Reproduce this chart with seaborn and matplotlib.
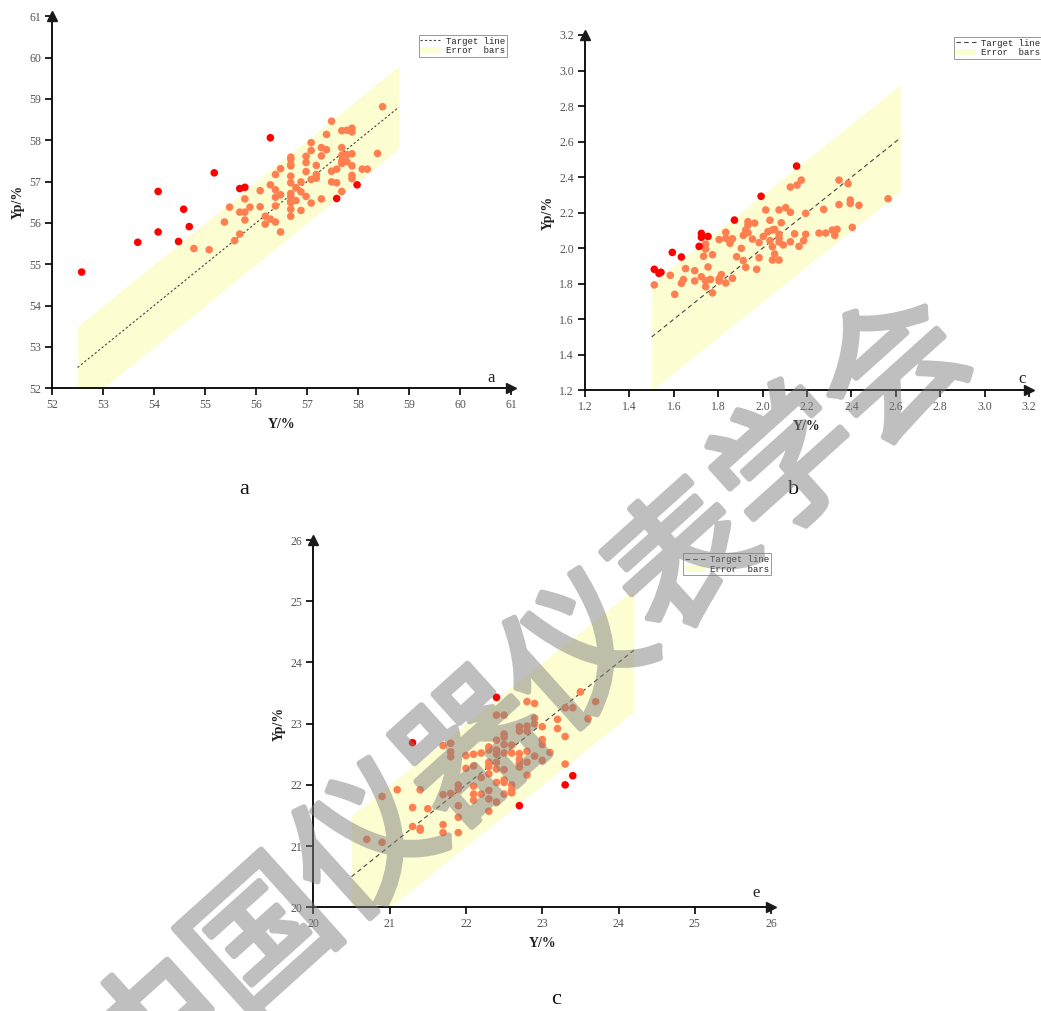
import numpy as np
import pandas as pd
import matplotlib.pyplot as plt
import matplotlib.patheffects as pe
from matplotlib.lines import Line2D
from matplotlib.patches import Patch
import seaborn as sns

# --- dati pannello a ---
a_in_x = [54.78, 55.08, 55.38, 55.48, 55.58, 55.68, 55.68, 55.78, 55.78, 55.78, 55.88, 56.08, 56.08,
          56.18, 56.18, 56.28, 56.28, 56.38, 56.38, 56.38, 56.38, 56.38, 56.48, 56.48, 56.48, 56.68,
          56.68, 56.68, 56.68, 56.68, 56.68, 56.68, 56.68, 56.68, 56.68, 56.68, 56.68, 56.78, 56.78,
          56.88, 56.88, 56.88, 56.98, 56.98, 56.98, 56.98, 57.08, 57.08, 57.08, 57.08, 57.18, 57.18,
          57.18, 57.28, 57.28, 57.28, 57.38, 57.38, 57.48, 57.48, 57.48, 57.58, 57.58, 57.68, 57.68,
          57.68, 57.68, 57.68, 57.68, 57.78, 57.78, 57.78, 57.88, 57.88, 57.88, 57.88, 57.88, 57.88,
          58.08, 58.18, 58.38, 58.48]
a_in_y = [55.38, 55.35, 56.02, 56.38, 55.57, 55.73, 56.26, 56.26, 56.07, 56.58, 56.38, 56.78, 56.39,
          56.16, 55.97, 56.92, 56.09, 57.17, 56.80, 56.62, 56.41, 56.02, 57.31, 56.68, 55.78, 57.59,
          57.54, 57.41, 57.38, 57.13, 56.97, 56.71, 56.63, 56.53, 56.49, 56.33, 56.16, 56.85, 56.54,
          56.99, 56.75, 56.30, 57.61, 57.46, 57.24, 56.64, 57.94, 57.75, 57.05, 56.48, 57.39, 57.17,
          57.08, 57.82, 57.62, 56.58, 58.14, 57.77, 58.46, 57.25, 56.99, 57.30, 56.97, 58.23, 57.82,
          57.63, 57.50, 57.44, 56.76, 58.24, 57.65, 57.48, 58.29, 58.20, 57.67, 57.38, 57.15, 57.07,
          57.30, 57.30, 57.68, 58.81]
a_out_x = [52.58, 53.68, 54.08, 54.08, 54.48, 54.58, 54.69, 55.18, 55.68, 55.78, 56.28, 57.58, 57.98]
a_out_y = [54.81, 55.53, 56.76, 55.78, 55.55, 56.33, 55.91, 57.21, 56.83, 56.86, 58.06, 56.59, 56.92]

# --- dati pannello b ---
b_in_x = [1.512, 1.584, 1.604, 1.634, 1.643, 1.653, 1.694, 1.694, 1.724, 1.734, 1.743, 1.743, 1.743,
          1.754, 1.743, 1.765, 1.774, 1.774, 1.804, 1.804, 1.804, 1.814, 1.834, 1.834, 1.834, 1.853,
          1.864, 1.864, 1.883, 1.904, 1.913, 1.913, 1.924, 1.924, 1.934, 1.934, 1.934, 1.954, 1.964,
          1.973, 1.984, 1.984, 2.003, 2.014, 2.024, 2.033, 2.033, 2.044, 2.044, 2.044, 2.054, 2.054,
          2.074, 2.074, 2.074, 2.074, 2.074, 2.084, 2.093, 2.104, 2.125, 2.125, 2.144, 2.164, 2.125,
          2.155, 2.174, 2.185, 2.194, 2.194, 2.254, 2.275, 2.284, 2.314, 2.325, 2.335, 2.344, 2.344,
          2.385, 2.395, 2.395, 2.404, 2.434, 2.565]
b_in_y = [1.793, 1.847, 1.740, 1.802, 1.823, 1.885, 1.873, 1.815, 1.839, 1.954, 2.023, 1.995, 1.783,
          1.894, 1.817, 1.824, 1.963, 1.748, 2.048, 1.828, 1.815, 1.851, 2.089, 2.055, 1.804, 2.027,
          2.053, 1.830, 1.952, 1.999, 2.072, 1.930, 2.102, 1.892, 2.149, 2.130, 2.087, 2.051, 2.141,
          1.881, 2.031, 1.946, 2.066, 2.215, 2.093, 2.157, 2.042, 2.102, 2.008, 1.933, 2.106, 1.967,
          2.215, 1.933, 2.078, 2.057, 2.035, 2.143, 2.018, 2.228, 2.202, 2.036, 2.081, 2.010, 2.344,
          2.355, 2.383, 2.042, 2.196, 2.078, 2.085, 2.218, 2.085, 2.102, 2.072, 2.106, 2.383, 2.245,
          2.363, 2.271, 2.252, 2.117, 2.241, 2.278]
b_out_x = [1.512, 1.533, 1.542, 1.593, 1.634, 1.714, 1.724, 1.724, 1.754, 1.873, 1.993, 2.153]
b_out_y = [1.881, 1.858, 1.864, 1.976, 1.950, 2.010, 2.083, 2.061, 2.066, 2.158, 2.292, 2.462]

# --- dati pannello c ---
c_in_x = [23.5, 23.7, 23.3, 23.4, 23.6, 22.8, 22.9, 22.4, 22.5, 22.9, 22.9, 23.2, 22.7, 22.7, 22.8,
          22.8, 23.0, 23.2, 23.3, 22.5, 22.5, 23.0, 23.0, 22.4, 21.7, 21.8, 22.3, 22.3, 22.5, 22.6,
          22.4, 22.4, 21.8, 21.8, 22.0, 22.1, 22.2, 22.5, 22.6, 22.7, 22.7, 22.8, 23.1, 22.9, 22.3,
          22.3, 22.4, 22.1, 22.8, 22.7, 22.7, 23.0, 23.3, 22.0, 22.2, 22.3, 22.4, 22.5, 22.8, 21.9,
          21.9, 21.8, 22.1, 22.4, 22.5, 22.5, 22.6, 22.6, 22.6, 22.1, 22.1, 22.2, 22.3, 22.3, 22.4,
          22.5, 21.7, 21.9, 21.4, 21.1, 20.9, 21.3, 21.5, 22.3, 21.9, 21.3, 21.4, 21.4, 21.7, 21.7,
          21.9, 20.7, 20.9]
c_in_y = [23.52, 23.36, 23.26, 23.26, 23.08, 23.36, 23.33, 23.14, 23.14, 23.09, 23.00, 23.07, 22.95,
          22.88, 22.96, 22.88, 22.95, 22.92, 22.79, 22.83, 22.78, 22.74, 22.66, 22.73, 22.64, 22.68,
          22.62, 22.57, 22.66, 22.65, 22.57, 22.50, 22.54, 22.46, 22.48, 22.50, 22.52, 22.52, 22.52,
          22.51, 22.42, 22.55, 22.53, 22.47, 22.37, 22.30, 22.37, 22.31, 22.37, 22.35, 22.29, 22.40,
          22.34, 22.27, 22.12, 22.18, 22.26, 22.25, 22.16, 22.00, 21.93, 21.86, 21.98, 22.04, 22.08,
          22.04, 22.00, 21.92, 21.87, 21.85, 21.75, 21.85, 21.91, 21.77, 21.72, 21.85, 21.84, 21.66,
          21.92, 21.92, 21.81, 21.63, 21.61, 21.57, 21.47, 21.32, 21.29, 21.26, 21.35, 21.22, 21.22,
          21.11, 21.06]
c_out_x = [21.3, 22.4, 22.7, 23.3, 23.4]
c_out_y = [22.69, 23.43, 21.66, 22.00, 22.15]

# linea target e banda d'errore
a_line = [52.5, 58.8]
b_line = [1.5, 2.62]
c_line = [20.5, 24.2]
a_err, b_err, c_err = 1.0, 0.3, 1.0

a_ticks = list(range(52, 62))
b_ticks = [1.2, 1.4, 1.6, 1.8, 2.0, 2.2, 2.4, 2.6, 2.8, 3.0, 3.2]
c_ticks = list(range(20, 27))

sns.set_theme(style='white')
plt.rcParams['font.family'] = ['Liberation Serif', 'DejaVu Serif']

ORANGE = '#FF7F50'
RED = '#FF0000'
BAND = '#FDFDD2'

fig = plt.figure(figsize=(10.41, 10.11), dpi=100)

panels = [
    dict(rect=[0.050, 0.616, 0.441, 0.368], ix=a_in_x, iy=a_in_y, ox=a_out_x, oy=a_out_y,
         line=a_line, err=a_err, ticks=a_ticks, fmt='{:d}', corner='a', cpos=(60.6, 52.05),
         dash=(2, 2), leg=(0.99, 0.95), cap=(0.235, 0.511), capt='a'),
    dict(rect=[0.562, 0.614, 0.4265, 0.3514], ix=b_in_x, iy=b_in_y, ox=b_out_x, oy=b_out_y,
         line=b_line, err=b_err, ticks=b_ticks, fmt='{:.1f}', corner='c', cpos=(3.17, 1.22),
         dash=(4, 3), leg=(1.03, 0.995), cap=(0.762, 0.511), capt='b'),
    dict(rect=[0.301, 0.1026, 0.4398, 0.3632], ix=c_in_x, iy=c_in_y, ox=c_out_x, oy=c_out_y,
         line=c_line, err=c_err, ticks=c_ticks, fmt='{:d}', corner='e', cpos=(25.8, 20.1),
         dash=(4, 3), leg=(1.0, 0.965), cap=(0.534, 0.007), capt='c'),
]

for p in panels:
    ax = fig.add_axes(p['rect'])
    lo, hi = p['ticks'][0], p['ticks'][-1]

    # banda d'errore
    xs = np.array(p['line'])
    ax.fill_between(xs, xs - p['err'], xs + p['err'], color=BAND, lw=0, zorder=1)
    ax.plot(xs, xs, color='#444444', lw=0.8, dashes=p['dash'], zorder=2)

    df = pd.DataFrame({
        'Y': p['ix'] + p['ox'],
        'Yp': p['iy'] + p['oy'],
        'tipo': ['in'] * len(p['ix']) + ['out'] * len(p['ox']),
    })
    sns.scatterplot(data=df, x='Y', y='Yp', hue='tipo', palette={'in': ORANGE, 'out': RED},
                    s=30, linewidth=0, legend=False, ax=ax, zorder=3)

    ax.set_xlim(lo, hi)
    ax.set_ylim(lo, hi)
    ax.set_xticks(p['ticks'])
    ax.set_yticks(p['ticks'])
    ax.set_xticklabels([p['fmt'].format(t) for t in p['ticks']])
    ax.set_yticklabels([p['fmt'].format(t) for t in p['ticks']])
    ax.tick_params(axis='both', direction='out', length=5, width=1.2, color='black',
                   labelsize=8.5, labelcolor='#555555', bottom=True, left=True, pad=3)
    for s in ['top', 'right']:
        ax.spines[s].set_visible(False)
    for s in ['left', 'bottom']:
        ax.spines[s].set_color('black')
        ax.spines[s].set_linewidth(1.3)
    # frecce sugli assi
    ax.plot(1, 0, '>k', ms=7, transform=ax.transAxes, clip_on=False, zorder=5)
    ax.plot(0, 1, '^k', ms=7, transform=ax.transAxes, clip_on=False, zorder=5)

    ax.set_xlabel('Y/%', fontsize=10, fontweight='bold', color='#222222', labelpad=5)
    ax.set_ylabel('Yp/%', fontsize=10, fontweight='bold', color='#222222', labelpad=3)
    ax.text(p['cpos'][0], p['cpos'][1], p['corner'], fontsize=12, ha='center', va='bottom',
            color='#222222')

    handles = [Line2D([0], [0], color='#444444', lw=0.8, dashes=p['dash']),
               Patch(facecolor=BAND, edgecolor='none')]
    leg = ax.legend(handles, ['Target line', 'Error  bars'], loc='upper right',
                    bbox_to_anchor=p['leg'], prop={'family': 'Liberation Mono', 'size': 6.5},
                    frameon=True, fancybox=False, framealpha=1, edgecolor='#888888',
                    borderpad=0.2, labelspacing=0.1, handlelength=2.2, handletextpad=0.6,
                    borderaxespad=0)
    leg.get_frame().set_linewidth(0.6)

    fig.text(p['cap'][0], p['cap'][1], p['capt'], fontsize=16, ha='center', va='baseline',
             color='#111111')


def semi_trasparente(img, dpi):
    # rende la filigrana trasparente in modo uniforme (tratto + riempimento)
    img = img.copy()
    img[..., 3] *= 0.5
    return img, 0, 0


# filigrana
wm = fig.text(0.508, 0.302, '中国仪器仪表学会', fontsize=102, rotation=42, ha='center',
              va='center', color='#808080', family=['Noto Sans CJK SC', 'DejaVu Sans'],
              zorder=10)
wm.set_path_effects([pe.withStroke(linewidth=4.5, foreground='#808080')])
wm.set_agg_filter(semi_trasparente)

fig.savefig('out.png', dpi=100)
